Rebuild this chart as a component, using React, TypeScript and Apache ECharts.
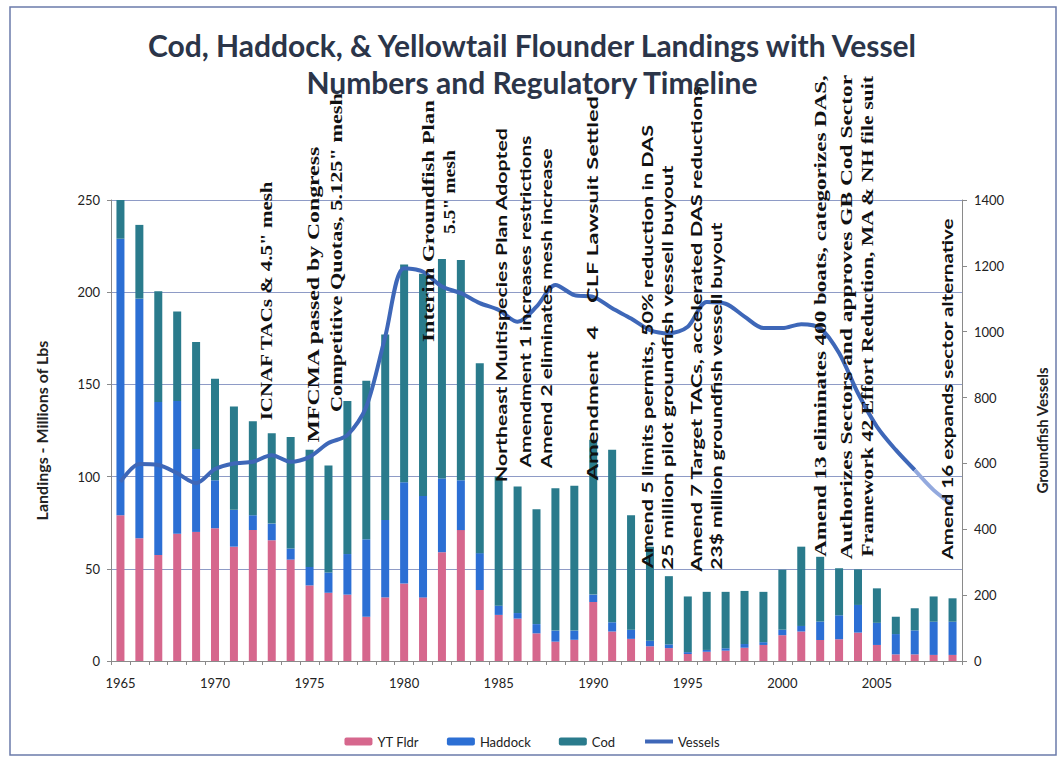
import React, { useEffect, useRef } from "react";
import * as echarts from "echarts";

// Landing years
const years = [
  "1965", "1966", "1967", "1968", "1969", "1970", "1971", "1972", "1973", "1974",
  "1975", "1976", "1977", "1978", "1979", "1980", "1981", "1982", "1983", "1984",
  "1985", "1986", "1987", "1988", "1989", "1990", "1991", "1992", "1993", "1994",
  "1995", "1996", "1997", "1998", "1999", "2000", "2001", "2002", "2003", "2004",
  "2005", "2006", "2007", "2008", "2009",
];

// Landings, millions of lbs
const ytFlounder = [
  79, 66.5, 57.5, 69, 70, 72, 62, 71, 65.5, 55,
  41, 37, 36, 24, 34.5, 42, 34.5, 59, 71, 38.5,
  25, 23, 15, 10.5, 11.5, 32, 16, 12, 8, 7,
  3.8, 5, 5.6, 7.2, 8.7, 14, 16, 11.4, 11.8, 15.4,
  8.7, 3.6, 3.6, 3.3, 3.3,
];
const haddock = [
  150, 130, 83, 72, 45, 26, 20, 8, 9, 6,
  10, 11, 22, 42, 42, 55, 55, 40, 27, 20,
  5, 3, 5, 6, 5, 4, 5, 5, 3, 2,
  1, 1, 1.3, 2, 1.5, 3, 3, 10, 13, 15,
  12, 11, 13, 18, 18,
];
const cod = [
  21, 40, 60, 48.5, 58, 55, 56, 51, 49, 60.5,
  63.5, 58, 83, 86, 100.5, 118, 120.5, 119, 119.5, 103,
  70, 68.6, 62.3, 77.2, 78.5, 84, 93.5, 62, 51, 37,
  30.2, 31.5, 30.6, 28.8, 27.3, 32.5, 43, 35.1, 25.5, 19.3,
  18.7, 9.4, 12, 13.7, 12.7,
];

// Groundfish vessel count
const vessels = [
  544, 598, 595, 570, 540, 583, 600, 605, 625, 605,
  620, 662, 686, 772, 985, 1193, 1182, 1137, 1117, 1087,
  1066, 1030, 1076, 1142, 1111, 1106, 1071, 1040, 1005, 995,
  1015, 1090, 1085, 1046, 1011, 1011, 1023, 1011, 935, 813,
  712, 641, 580, 519, 474,
];
const vesselTailFrom = "2007";

// Regulatory timeline (position along the year axis, annotation text)
const timelineEvents = [
  { at: 1972.7, text: 'ICNAF TACs & 4.5" mesh' },
  { at: 1975.2, text: "MFCMA passed by Congress" },
  { at: 1976.4, text: 'Competitive Quotas, 5.125" mesh' },
  { at: 1981.25, text: "Interim Groundfish Plan" },
  { at: 1982.4, text: '5.5" mesh' },
  { at: 1985.1, text: "Northeast Multispecies Plan Adopted" },
  { at: 1986.4, text: "Amendment 1 increases restrictions" },
  { at: 1987.5, text: "Amend 2 eliminates mesh increase" },
  { at: 1989.9, text: "Amendment  4    CLF Lawsuit Settled" },
  { at: 1992.8, text: "Amend 5 limits permits, 50% reduction in DAS" },
  { at: 1993.9, text: "25 million pilot groundfish vessell buyout" },
  { at: 1995.4, text: "Amend 7 Target TACs, accelerated DAS reductions" },
  { at: 1996.5, text: "23$ million groundfish vessell buyout" },
  { at: 2002.0, text: "Amend 13 eliminates 400 boats, categorizes DAS," },
  { at: 2003.4, text: "Authorizes Sectors and approves GB Cod Sector" },
  { at: 2004.5, text: "Framework 42 Effort Reduction, MA & NH file suit" },
  { at: 2008.7, text: "Amend 16 expands sector alternative" },
];

// Where each annotation starts (left-axis value), its drawn length in px and its face
const eventPlacement = [
  { base: 130.5, length: 240, face: "serif" },
  { base: 118.5, length: 297, face: "serif" },
  { base: 135, length: 319, face: "serif" },
  { base: 173, length: 242, face: "serif" },
  { base: 231.5, length: 84, face: "serif" },
  { base: 97, length: 355, face: "sans" },
  { base: 105, length: 332, face: "sans" },
  { base: 104.5, length: 320, face: "sans" },
  { base: 98, length: 385, face: "sans" },
  { base: 50.5, length: 443, face: "sans" },
  { base: 49.5, length: 405, face: "sans" },
  { base: 48.5, length: 487, face: "sans" },
  { base: 49.5, length: 348, face: "sans" },
  { base: 56.5, length: 482, face: "serif" },
  { base: 55, length: 485, face: "serif" },
  { base: 56.5, length: 482, face: "serif" },
  { base: 55, length: 342, face: "sans" },
];

const SANS = "Lato";
const SERIF = '"Liberation Serif"';

const COLORS = {
  yt: "#D6678D",
  haddock: "#2C6FD4",
  cod: "#2A7B8C",
  vessels: "#3E67B8",
  vesselsTail: "#93A9DE",
  grid: "#8E9BC6",
  axis: "#8A8A8A",
  text: "#222222",
  title: "#2B3549",
};

export default function App() {
  const ref = useRef<HTMLDivElement>(null);

  useEffect(() => {
    if (!ref.current) return;
    const chart = echarts.init(ref.current, null, { renderer: "svg" });
    const tailIdx = years.indexOf(vesselTailFrom);

    chart.setOption({
      animation: false,
      backgroundColor: "#ffffff",
      title: {
        text: "Cod, Haddock, & Yellowtail Flounder Landings with Vessel\nNumbers and Regulatory Timeline",
        left: "center",
        top: 21,
        textStyle: {
          fontFamily: SANS,
          fontWeight: "bold",
          fontSize: 30,
          lineHeight: 37,
          color: COLORS.title,
        },
      },
      legend: {
        data: [
          "YT Fldr",
          "Haddock",
          "Cod",
          { name: "Vessels", itemStyle: { opacity: 0 }, lineStyle: { width: 4, color: COLORS.vessels } },
        ],
        left: "center",
        top: 730,
        itemWidth: 28,
        itemHeight: 8,
        itemGap: 28,
        textStyle: { fontFamily: SANS, fontSize: 13, color: COLORS.text },
      },
      grid: { left: 111, right: 102, top: 200, bottom: 100 },
      xAxis: {
        type: "category",
        data: years,
        boundaryGap: true,
        axisLine: { lineStyle: { color: COLORS.axis } },
        axisTick: { show: true, interval: 0, length: 4, lineStyle: { color: COLORS.axis } },
        axisLabel: {
          interval: 4,
          margin: 15,
          fontFamily: SANS,
          fontSize: 13,
          color: COLORS.text,
        },
      },
      yAxis: [
        {
          type: "value",
          min: 0,
          max: 250,
          interval: 50,
          name: "Landings - Millions of Lbs",
          nameLocation: "middle",
          nameRotate: 90,
          nameGap: 62,
          nameTextStyle: { fontFamily: SANS, fontWeight: "bold", fontSize: 16, color: COLORS.text },
          axisLine: { show: true, lineStyle: { color: COLORS.axis } },
          axisTick: { show: true, length: 4, lineStyle: { color: COLORS.axis } },
          axisLabel: { margin: 11, fontFamily: SANS, fontSize: 13, color: COLORS.text },
          splitLine: { show: true, lineStyle: { color: COLORS.grid, width: 1 } },
        },
        {
          type: "value",
          min: 0,
          max: 1400,
          interval: 200,
          position: "right",
          name: "Groundfish Vessels",
          nameLocation: "middle",
          nameRotate: 90,
          nameGap: 72,
          nameTextStyle: { fontFamily: SANS, fontWeight: "bold", fontSize: 15, color: COLORS.text },
          axisLine: { show: true, lineStyle: { color: COLORS.axis } },
          axisTick: { show: true, length: 5, lineStyle: { color: COLORS.axis } },
          axisLabel: {
            margin: 12,
            fontFamily: SANS,
            fontSize: 13,
            color: COLORS.text,
            formatter: (v: number) => String(v),
          },
          splitLine: { show: false },
        },
      ],
      series: [
        {
          name: "YT Fldr",
          type: "bar",
          stack: "landings",
          barWidth: 8,
          data: ytFlounder,
          itemStyle: { color: COLORS.yt },
        },
        {
          name: "Haddock",
          type: "bar",
          stack: "landings",
          barWidth: 8,
          data: haddock,
          itemStyle: { color: COLORS.haddock },
        },
        {
          name: "Cod",
          type: "bar",
          stack: "landings",
          barWidth: 8,
          data: cod,
          itemStyle: { color: COLORS.cod },
        },
        {
          name: "Vessels",
          type: "line",
          yAxisIndex: 1,
          smooth: 0.3,
          symbol: "none",
          z: 5,
          data: vessels.map((v, i) => (i <= tailIdx ? v : null)),
          itemStyle: { color: COLORS.vessels },
          lineStyle: { width: 4, color: COLORS.vessels },
        },
        {
          name: "Vessels (recent)",
          type: "line",
          yAxisIndex: 1,
          smooth: 0.3,
          symbol: "none",
          z: 5,
          data: vessels.map((v, i) => (i >= tailIdx ? v : null)),
          lineStyle: { width: 4, color: COLORS.vesselsTail },
        },
      ],
    });

    // Rotated regulatory annotations, placed against the chart's own axes
    const ctx = document.createElement("canvas").getContext("2d");
    const xAt = (yr: number) => {
      const i = Math.floor(yr - 1965);
      const f = yr - 1965 - i;
      const a = chart.convertToPixel({ xAxisIndex: 0 }, years[i]) as number;
      const b = chart.convertToPixel({ xAxisIndex: 0 }, years[Math.min(i + 1, years.length - 1)]) as number;
      return a + (b - a) * f;
    };
    const notes = timelineEvents.map((ev, k) => {
      const p = eventPlacement[k];
      const family = p.face === "serif" ? SERIF : SANS;
      const size = p.face === "serif" ? 17 : 16;
      let w = ev.text.length * size * 0.5;
      if (ctx) {
        ctx.font = `bold ${size}px ${family}`;
        w = ctx.measureText(ev.text).width;
      }
      const y = chart.convertToPixel({ yAxisIndex: 0 }, p.base) as number;
      return {
        type: "text",
        x: xAt(ev.at),
        y,
        rotation: Math.PI / 2,
        scaleX: p.length / w,
        silent: true,
        z: 100,
        style: {
          text: ev.text,
          fontFamily: family,
          fontWeight: "bold",
          fontSize: size,
          fill: "#111111",
          align: "left",
          verticalAlign: "middle",
        },
      };
    });

    chart.setOption({
      graphic: [
        {
          type: "rect",
          shape: { x: 10, y: 7, width: 1046, height: 748 },
          silent: true,
          z: -1,
          style: { fill: "none", stroke: "#6B7BAA", lineWidth: 1.5 },
        },
        ...notes,
      ],
    });

    return () => chart.dispose();
  }, []);

  return (
    <div
      ref={ref}
      style={{ position: "absolute", left: 0, top: 0, width: 1064, height: 761, background: "#ffffff" }}
    />
  );
}
